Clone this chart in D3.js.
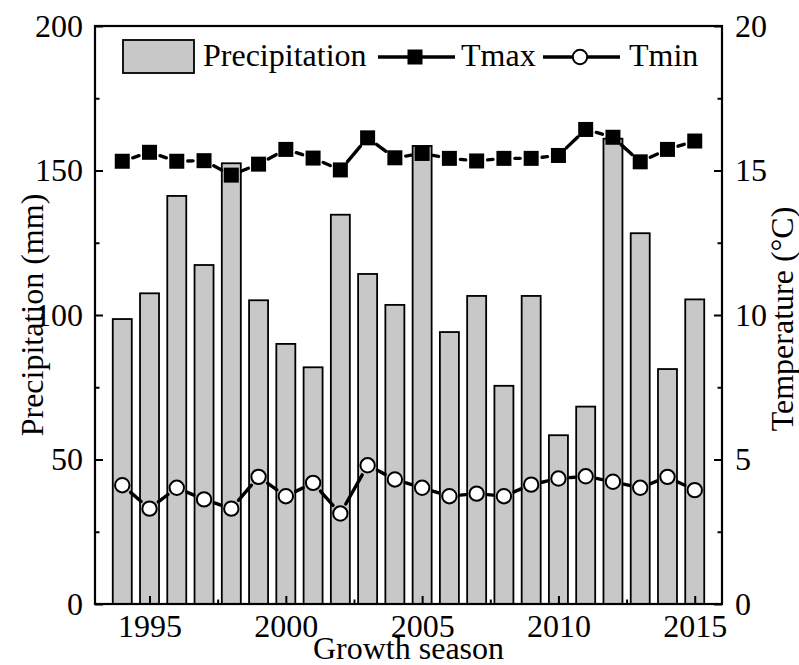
<!DOCTYPE html>
<html>
<head>
<meta charset="utf-8">
<script src="https://cdn.jsdelivr.net/npm/d3@7"></script>
<style>
  html, body { margin: 0; padding: 0; background: #fff; }
  svg { display: block; }
  svg text { font-family: 'Liberation Serif', 'Tinos', 'Times New Roman', 'DejaVu Serif', serif !important; fill: #000; }
</style>
</head>
<body>
<svg id="chart" width="799" height="665"></svg>
<script>
// ---- data ----
const years = [1994,1995,1996,1997,1998,1999,2000,2001,2002,2003,2004,2005,2006,2007,2008,2009,2010,2011,2012,2013,2014,2015];
const precipitation = [98.6,107.5,141.2,117.3,152.5,105.1,90.0,81.9,134.7,114.2,103.5,158.5,94.1,106.6,75.5,106.6,58.4,68.3,161,128.3,81.3,105.4];
const tmax = [15.32,15.63,15.32,15.34,14.84,15.22,15.73,15.43,15.02,16.13,15.44,15.59,15.42,15.33,15.42,15.42,15.52,16.42,16.15,15.30,15.73,16.02];
const tmin = [4.11,3.30,4.02,3.62,3.30,4.40,3.73,4.19,3.13,4.80,4.31,4.02,3.73,3.82,3.73,4.13,4.34,4.42,4.23,4.02,4.40,3.94];
const xTicks = [1995,2000,2005,2010,2015];
const xMinorTicks = [1997.5,2002.5,2007.5,2012.5];
const yLeftTicks = [0,50,100,150,200];
const yLeftMinor = [25,75,125,175];
const yRightTicks = [0,5,10,15,20];
const yRightMinor = [2.5,7.5,12.5,17.5];
const legendLabels = ["Precipitation","Tmax","Tmin"];

// ---- layout ----
const L = 95, R = 722, T = 26, B = 604;
const FS = 32;
const FF = "'Liberation Serif', 'Tinos', 'Times New Roman', 'DejaVu Serif', serif";
const svg = d3.select("#chart").attr("font-family", FF);

const x = d3.scaleLinear().domain([1993, 2016]).range([L, R]);
const yP = d3.scaleLinear().domain([0, 200]).range([B, T]);
const yT = d3.scaleLinear().domain([0, 20]).range([B, T]);

// ---- bars ----
const barW = 19;
svg.append("g").selectAll("rect").data(years).join("rect")
  .attr("x", (d) => x(d) - barW / 2)
  .attr("y", (d, i) => yP(precipitation[i]))
  .attr("width", barW)
  .attr("height", (d, i) => yP(0) - yP(precipitation[i]))
  .attr("fill", "#c8c8c8")
  .attr("stroke", "#000")
  .attr("stroke-width", 1.8);

// ---- lines with gap to symbol ----
function gappedSegments(vals, gap) {
  const segs = [];
  for (let i = 0; i < years.length - 1; i++) {
    const x1 = x(years[i]), y1 = yT(vals[i]);
    const x2 = x(years[i + 1]), y2 = yT(vals[i + 1]);
    const dx = x2 - x1, dy = y2 - y1;
    const len = Math.hypot(dx, dy);
    if (len > 2 * gap) {
      const ux = dx / len, uy = dy / len;
      segs.push([x1 + ux * gap, y1 + uy * gap, x2 - ux * gap, y2 - uy * gap]);
    }
  }
  return segs;
}
function drawSeries(vals) {
  svg.append("g").selectAll("line").data(gappedSegments(vals, 11)).join("line")
    .attr("x1", (s) => s[0]).attr("y1", (s) => s[1])
    .attr("x2", (s) => s[2]).attr("y2", (s) => s[3])
    .attr("stroke", "#000").attr("stroke-width", 3.4).attr("stroke-linecap", "round");
}
drawSeries(tmax);
drawSeries(tmin);

const sq = 15;
svg.append("g").selectAll("rect").data(years).join("rect")
  .attr("x", (d) => x(d) - sq / 2)
  .attr("y", (d, i) => yT(tmax[i]) - sq / 2)
  .attr("width", sq).attr("height", sq)
  .attr("fill", "#000");

svg.append("g").selectAll("circle").data(years).join("circle")
  .attr("cx", (d) => x(d))
  .attr("cy", (d, i) => yT(tmin[i]))
  .attr("r", 7.2)
  .attr("fill", "#fff")
  .attr("stroke", "#000")
  .attr("stroke-width", 2);

// ---- frame ----
svg.append("rect").attr("x", L).attr("y", T).attr("width", R - L).attr("height", B - T)
  .attr("fill", "none").attr("stroke", "#000").attr("stroke-width", 2.2);

// ---- axes ----
function styleAxis(g) {
  g.attr("font-family", FF).attr("font-size", FS);
  g.select(".domain").remove();
  g.selectAll(".tick line").attr("stroke", "#000").attr("stroke-width", 2);
  g.selectAll(".tick text").attr("fill", "#000");
}
svg.append("g").attr("transform", `translate(0,${B})`)
  .call(d3.axisBottom(x).tickValues(xTicks).tickFormat(d3.format("d")).tickSize(-8).tickPadding(10))
  .call(styleAxis);
svg.append("g").attr("transform", `translate(0,${B})`)
  .call(d3.axisBottom(x).tickValues(xMinorTicks).tickFormat("").tickSize(-4.5))
  .call(styleAxis);

svg.append("g").attr("transform", `translate(${L},0)`)
  .call(d3.axisLeft(yP).tickValues(yLeftTicks).tickFormat(d3.format("d")).tickSize(-8).tickPadding(12))
  .call(styleAxis);
svg.append("g").attr("transform", `translate(${L},0)`)
  .call(d3.axisLeft(yP).tickValues(yLeftMinor).tickFormat("").tickSize(-4.5))
  .call(styleAxis);

svg.append("g").attr("transform", `translate(${R},0)`)
  .call(d3.axisRight(yT).tickValues(yRightTicks).tickFormat(d3.format("d")).tickSize(-8).tickPadding(13))
  .call(styleAxis);
svg.append("g").attr("transform", `translate(${R},0)`)
  .call(d3.axisRight(yT).tickValues(yRightMinor).tickFormat("").tickSize(-4.5))
  .call(styleAxis);

// ---- axis titles ----
svg.append("text").attr("transform", `translate(43,${(T + B) / 2}) rotate(-90)`)
  .attr("text-anchor", "middle").attr("font-size", FS).text("Precipitation (mm)");
svg.append("text").attr("transform", `translate(793,${(T + B) / 2 + 4}) rotate(-90)`)
  .attr("text-anchor", "middle").attr("font-size", FS).text("Temperature (°C)");
svg.append("text").attr("x", (L + R) / 2).attr("y", 659)
  .attr("text-anchor", "middle").attr("font-size", FS).text("Growth season");

// ---- legend ----
const lg = svg.append("g");
lg.append("rect").attr("x", 123).attr("y", 40).attr("width", 71).attr("height", 33)
  .attr("fill", "#c8c8c8").attr("stroke", "#000").attr("stroke-width", 1.8);
lg.append("text").attr("x", 203).attr("y", 66).attr("font-size", FS).text(legendLabels[0]);
lg.append("line").attr("x1", 378).attr("x2", 455).attr("y1", 57).attr("y2", 57)
  .attr("stroke", "#000").attr("stroke-width", 3.4);
lg.append("rect").attr("x", 415 - sq / 2).attr("y", 57 - sq / 2).attr("width", sq).attr("height", sq).attr("fill", "#000");
lg.append("text").attr("x", 461).attr("y", 66).attr("font-size", FS).text(legendLabels[1]);
lg.append("line").attr("x1", 543).attr("x2", 620).attr("y1", 57).attr("y2", 57)
  .attr("stroke", "#000").attr("stroke-width", 3.4);
lg.append("circle").attr("cx", 580).attr("cy", 57).attr("r", 7.2)
  .attr("fill", "#fff").attr("stroke", "#000").attr("stroke-width", 2);
lg.append("text").attr("x", 629).attr("y", 66).attr("font-size", FS).text(legendLabels[2]);
</script>
</body>
</html>
